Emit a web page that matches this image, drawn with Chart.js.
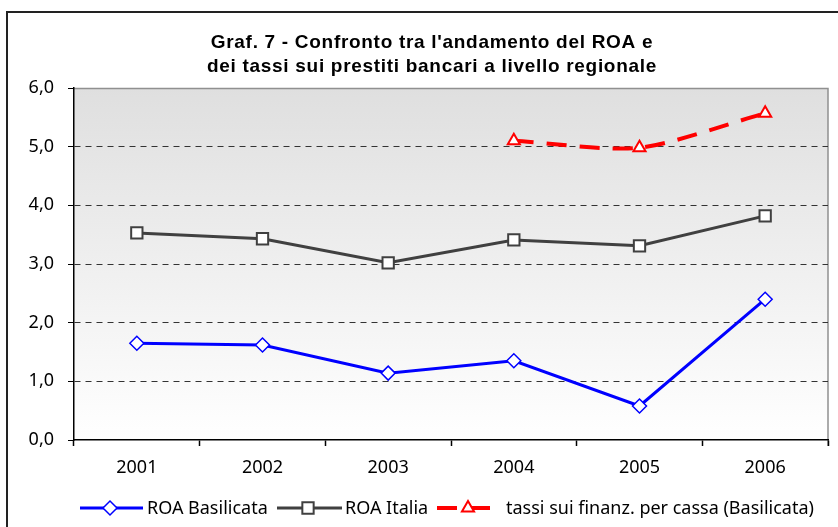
<!DOCTYPE html>
<html>
<head>
<meta charset="utf-8">
<script src="https://cdn.jsdelivr.net/npm/chart.js@4"></script>
<style>
  html, body { margin: 0; padding: 0; background: #fff; }
  #wrap { width: 838px; height: 527px; position: relative; }
</style>
</head>
<body>
<div id="wrap"><canvas id="c" width="838" height="527"></canvas></div>
<script>
const categories = ['2001', '2002', '2003', '2004', '2005', '2006'];
const roaBasilicata = [1.65, 1.62, 1.14, 1.35, 0.58, 2.40];
const roaItalia = [3.53, 3.43, 3.02, 3.41, 3.31, 3.82];
const tassiBasilicata = [null, null, null, 5.10, 4.98, 5.57];
const yTicks = [0, 1, 2, 3, 4, 5, 6];
const titleLines = ["Graf. 7 - Confronto tra l'andamento del ROA e", "dei tassi sui prestiti bancari a livello regionale"];
const seriesLabels = ['ROA Basilicata', 'ROA Italia', 'tassi sui finanz. per cassa (Basilicata)'];

const FONT = '"Noto Sans", "DejaVu Sans", sans-serif';

const decorPlugin = {
  id: 'decor',
  beforeDraw(chart) {
    const { ctx, chartArea: a } = chart;
    ctx.save();
    ctx.fillStyle = '#fff';
    ctx.fillRect(0, 0, chart.width, chart.height);
    const g = ctx.createLinearGradient(0, a.top, 0, a.bottom);
    g.addColorStop(0, '#dfdfdf');
    g.addColorStop(1, '#ffffff');
    ctx.fillStyle = g;
    ctx.fillRect(a.left, a.top, a.right - a.left, a.bottom - a.top);
    // outer frame
    ctx.strokeStyle = '#222';
    ctx.lineWidth = 2;
    ctx.beginPath();
    ctx.moveTo(7, chart.height + 2);
    ctx.lineTo(7, 12);
    ctx.lineTo(chart.width + 2, 12);
    ctx.stroke();
    // plot area top/right border
    ctx.strokeStyle = '#909090';
    ctx.lineWidth = 1.5;
    ctx.beginPath();
    ctx.moveTo(a.left, a.top + 0.5);
    ctx.lineTo(a.right, a.top + 0.5);
    ctx.lineTo(a.right, a.bottom + 6);
    ctx.stroke();
    // title
    ctx.fillStyle = '#000';
    ctx.font = 'bold 19px "Liberation Sans", Arial, sans-serif';
    ctx.letterSpacing = '0.7px';
    ctx.textAlign = 'center';
    ctx.textBaseline = 'middle';
    const cx = 432;
    titleLines.forEach((t, i) => ctx.fillText(t, cx, 43 + i * 24));
    ctx.restore();
  },
  afterDraw(chart) {
    const { ctx } = chart;
    const y = 508;
    const items = [
      { x0: 80, x1: 143, mx: 110, tx: 147 },
      { x0: 277, x1: 342, mx: 308, tx: 345 },
      { x0: 437, x1: 492, mx: 468, tx: 506 }
    ];
    ctx.save();
    chart.data.datasets.forEach((ds, i) => {
      const it = items[i];
      ctx.strokeStyle = ds.borderColor;
      ctx.lineWidth = ds.borderWidth;
      ctx.setLineDash(ds.borderDash || []);
      ctx.beginPath();
      ctx.moveTo(it.x0, y);
      ctx.lineTo(it.x1, y);
      ctx.stroke();
      ctx.setLineDash([]);
      ctx.fillStyle = ds.pointBackgroundColor;
      ctx.strokeStyle = ds.pointBorderColor;
      ctx.lineWidth = ds.pointBorderWidth;
      Chart.helpers.drawPoint(ctx, { pointStyle: ds.pointStyle, radius: ds.pointRadius, borderWidth: ds.pointBorderWidth, rotation: 0 }, it.mx, y);
      ctx.fillStyle = '#000';
      ctx.font = '18px ' + FONT;
      ctx.textAlign = 'left';
      ctx.textBaseline = 'middle';
      ctx.fillText(ds.label, it.tx, y + 1);
    });
    ctx.restore();
  }
};

new Chart(document.getElementById('c'), {
  type: 'line',
  data: {
    labels: categories,
    datasets: [
      {
        label: seriesLabels[0],
        data: roaBasilicata,
        borderColor: '#0000ff',
        borderWidth: 3,
        pointStyle: 'rectRot',
        pointRadius: 7,
        pointHoverRadius: 7,
        pointBackgroundColor: '#ffffff',
        pointBorderColor: '#0000ff',
        pointBorderWidth: 1.5,
        tension: 0
      },
      {
        label: seriesLabels[1],
        data: roaItalia,
        borderColor: '#404040',
        borderWidth: 3,
        pointStyle: 'rect',
        pointRadius: 8,
        pointHoverRadius: 8,
        pointBackgroundColor: '#ffffff',
        pointBorderColor: '#404040',
        pointBorderWidth: 2,
        tension: 0
      },
      {
        label: seriesLabels[2],
        data: tassiBasilicata,
        borderColor: '#ff0000',
        borderWidth: 4,
        borderDash: [20, 13],
        pointStyle: 'triangle',
        pointRadius: 7,
        pointHoverRadius: 7,
        pointBackgroundColor: '#ffffff',
        pointBorderColor: '#ff0000',
        pointBorderWidth: 2,
        tension: 0.25,
        spanGaps: false
      }
    ]
  },
  options: {
    responsive: false,
    animation: false,
    events: [],
    layout: { padding: { top: 88, right: 8, left: 0, bottom: 0 } },
    plugins: {
      legend: { display: false },
      title: { display: false },
      tooltip: { enabled: false }
    },
    scales: {
      x: {
        type: 'category',
        offset: true,
        afterFit(s) { s.height = 87; },
        border: { color: '#000', width: 1.5 },
        grid: {
          offset: true,
          drawOnChartArea: false,
          drawTicks: true,
          tickLength: 6,
          tickColor: '#000',
          tickWidth: 1.5
        },
        ticks: {
          color: '#000',
          padding: 11,
          font: { family: FONT, size: 18 }
        }
      },
      y: {
        min: 0,
        max: 6,
        afterFit(s) { s.width = 74; },
        afterBuildTicks(s) { s.ticks = yTicks.map(v => ({ value: v })); },
        border: { color: '#000', width: 1.5, dash: [6, 5] },
        grid: {
          drawTicks: true,
          tickLength: 6,
          tickColor: '#000',
          tickWidth: 1,
          tickBorderDash: [],
          color: (c) => (c.tick && (c.tick.value === 0 || c.tick.value === 6)) ? 'rgba(0,0,0,0)' : '#333333',
          lineWidth: 1
        },
        ticks: {
          color: '#000',
          padding: 14,
          font: { family: FONT, size: 18 },
          callback: (v) => Number(v).toFixed(1).replace('.', ',')
        }
      }
    }
  },
  plugins: [decorPlugin]
});
</script>
</body>
</html>
